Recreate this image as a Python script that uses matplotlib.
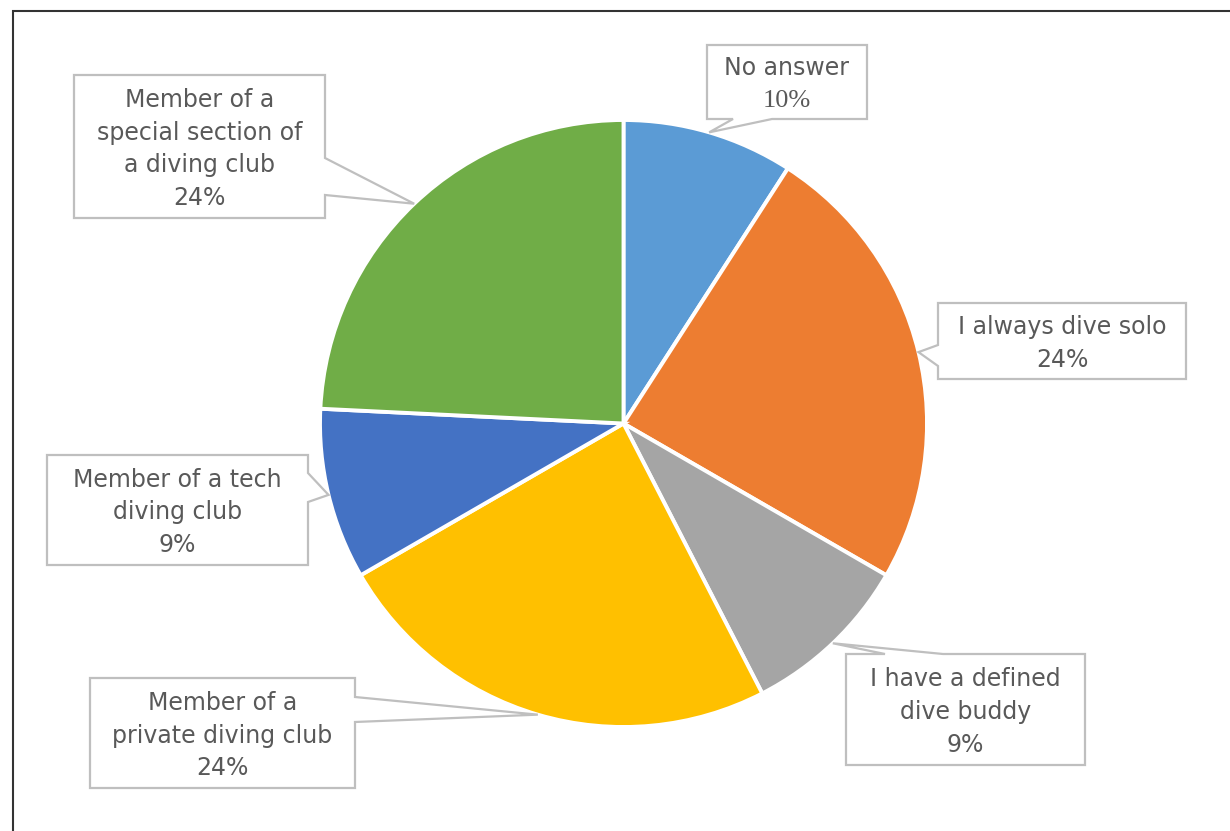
import matplotlib
matplotlib.use("Agg")
import matplotlib.pyplot as plt
from matplotlib.patches import Polygon, Rectangle
import numpy as np

# ---- data ----
categories = ["No answer", "I always dive solo", "I have a defined\ndive buddy",
              "Member of a\nprivate diving club", "Member of a tech\ndiving club",
              "Member of a\nspecial section of\na diving club"]
shares = [9.1, 24.2, 9.1, 24.2, 9.1, 24.2]
pct_labels = ["10%", "24%", "9%", "24%", "9%", "24%"]
colors = ["#5B9BD5", "#ED7D31", "#A5A5A5", "#FFC000", "#4472C4", "#70AD47"]

# ---- layout (pixel coordinates, y measured downward) ----
W, H = 1230, 831
CX, CY, R = 623.5, 423.5, 303.5
boxes = [  # x0, y0, x1, y1, pointer side, pointer base (a, b)
    (707, 45, 867, 119, "bottom", (733, 772)),
    (938, 303, 1186, 379, "left", (345, 366)),
    (846, 654, 1085, 765, "top", (885, 943)),
    (90, 678, 355, 788, "right", (697, 722)),
    (47, 455, 308, 565, "right", (473, 502)),
    (74, 75, 325, 218, "right", (158, 195)),
]
pct_fonts = [["Liberation Serif"], ["DejaVu Sans"], ["DejaVu Sans"],
             ["DejaVu Sans"], ["DejaVu Sans"], ["DejaVu Sans"]]
pitch = 32.5
txt_color = "#595959"
line_color = "#BFBFBF"

fig = plt.figure(figsize=(W / 100, H / 100), dpi=100)
ax = fig.add_axes([0, 0, 1, 1])


def py(y):
    return H - y


wedges, _ = ax.pie(shares, colors=colors, startangle=90, counterclock=False,
                   center=(CX, py(CY)), radius=R,
                   wedgeprops=dict(edgecolor="white", linewidth=2.8))
ax.set_xlim(0, W)
ax.set_ylim(0, H)
ax.set_aspect("auto")
ax.axis("off")

# frame line (top and left visible)
ax.add_patch(Rectangle((12.5, -50), W + 100, py(10.5) + 50, fill=False,
                       edgecolor="#333333", linewidth=1.5, zorder=0))

for i, w in enumerate(wedges):
    mid = np.deg2rad((w.theta1 + w.theta2) / 2)
    tip = (CX + R * np.cos(mid), py(CY) + R * np.sin(mid))
    x0, y0, x1, y1, side, (a, b) = boxes[i]
    if side == "bottom":
        pts = [(x0, y0), (x1, y0), (x1, y1), (b, y1), None, (a, y1), (x0, y1)]
    elif side == "top":
        pts = [(x0, y0), (a, y0), None, (b, y0), (x1, y0), (x1, y1), (x0, y1)]
    elif side == "right":
        pts = [(x0, y0), (x1, y0), (x1, a), None, (x1, b), (x1, y1), (x0, y1)]
    else:
        pts = [(x0, y0), (x1, y0), (x1, y1), (x0, y1), (x0, b), None, (x0, a)]
    verts = [tip if p is None else (p[0], py(p[1])) for p in pts]
    ax.add_patch(Polygon(verts, closed=True, facecolor="white",
                         edgecolor=line_color, linewidth=1.6, zorder=5,
                         joinstyle="miter"))
    cxb = (x0 + x1) / 2
    cyb = (y0 + y1) / 2
    lines = categories[i].split("\n")
    n = len(lines) + 1
    for k, ln in enumerate(lines):
        ax.text(cxb, py(cyb + (k - (n - 1) / 2) * pitch), ln, ha="center",
                va="center_baseline", fontsize=17, color=txt_color,
                family=["DejaVu Sans"], zorder=6)
    serif = pct_fonts[i][0] == "Liberation Serif"
    ax.text(cxb, py(cyb + ((n - 1) / 2) * pitch), pct_labels[i], ha="center",
            va="center_baseline", fontsize=19 if serif else 17,
            color=txt_color, family=pct_fonts[i], zorder=6)

fig.savefig("out.png", dpi=100, facecolor="white")
